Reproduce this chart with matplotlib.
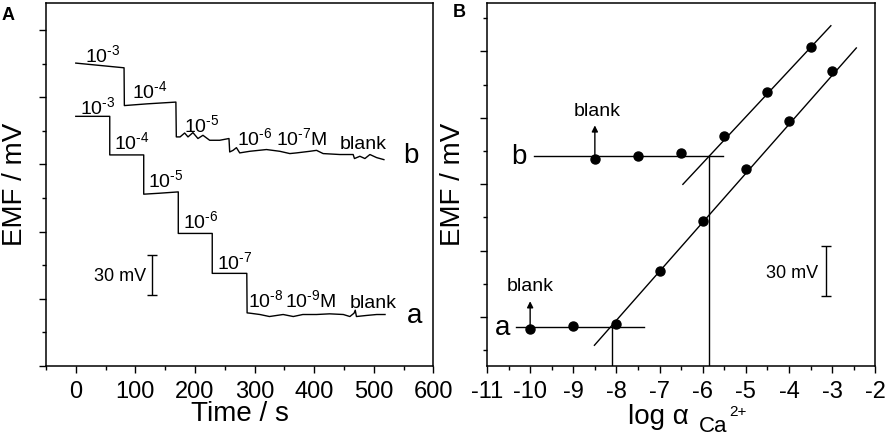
import matplotlib
matplotlib.use('Agg')
import matplotlib.pyplot as plt
from matplotlib.ticker import MultipleLocator, NullFormatter

plt.rcParams['font.family'] = ['Liberation Sans', 'DejaVu Sans']
plt.rcParams['mathtext.fontset'] = 'custom'
plt.rcParams['mathtext.rm'] = 'Liberation Sans'
plt.rcParams['mathtext.it'] = 'Liberation Sans:italic'
plt.rcParams['mathtext.default'] = 'regular'
plt.rcParams['axes.unicode_minus'] = False

# Panel A: potential-time traces (mV, relative)
time_a = [0, 57, 57, 114, 114, 140, 172, 172, 229, 229, 287, 287.5, 292, 309, 325, 348, 365,
          381, 404, 426, 449, 460, 467, 469, 471, 488, 505, 519]
emf_a = [185.7, 185.7, 157, 157, 127.8, 128.5, 129.5, 98.6, 98.6, 68.9, 68.9, 39.5, 39.3, 38.3,
         36.8, 38.3, 36.8, 38.3, 38.3, 38.8, 38.3, 36.8, 39.3, 41.5, 36.8, 37.6, 38.3, 38.3]

time_b = [0, 81, 81.5, 120, 168, 168.7, 175, 182.7, 188.3, 196.6, 205, 213.4, 224.7, 241.5,
          257.1, 258.3, 263.9, 269.6, 275.1, 291.9, 320, 342.4, 359.2, 370.4, 392.8, 404,
          415.1, 443.2, 465.5, 467.7, 476.8, 485.2, 493.6, 504.9, 517.1]
emf_b = [225.3, 221.8, 193.7, 195, 196.3, 170.4, 170.4, 173.3, 170.4, 173.6, 169.2, 171.6,
         167.9, 167.9, 169.2, 159.2, 160.4, 162.4, 158.5, 159.7, 161, 159.7, 158, 158.5, 159.7,
         160.4, 158, 157.3, 157.3, 154.3, 156, 154.3, 157.3, 155, 153.5]

# step labels (text, time, emf); U+2010 keeps the short hyphen of the original
labels_a = [('10$^{\u20103}$', 7, 187.7), ('10$^{\u20104}$', 64.6, 161.7),
            ('10$^{\u20105}$', 121.7, 132.8), ('10$^{\u20106}$', 179.4, 102.3),
            ('10$^{\u20107}$', 237.5, 71.8), ('10$^{\u20108}$', 289, 43.5),
            ('10$^{\u20109}$M', 351, 43.5), ('blank', 460, 43.5)]
labels_b = [('10$^{\u20103}$', 15.4, 226.4), ('10$^{\u20104}$', 93.8, 198.9),
            ('10$^{\u20105}$', 182.1, 174.1), ('10$^{\u20106}$', 270, 164.2),
            ('10$^{\u20107}$M', 336, 164.2), ('blank', 443.4, 161.7)]

# Panel B: calibration
log_a = [-10, -9, -8, -7, -6, -5, -4, -3]
emf_cal_a = [33.0, 34.4, 36.0, 67.6, 98.0, 129.0, 158.3, 188.4]
log_b = [-8.5, -7.5, -6.5, -5.5, -4.5, -3.5]
emf_cal_b = [135.0, 137.0, 138.7, 149.1, 175.3, 202.7]

fit_a_x = [-8.51, -2.44]
fit_a_y = [22.9, 202.1]
fit_b_x = [-6.46, -3.03]
fit_b_y = [119.9, 215.5]
flat_a_x = [-10.33, -7.36]
flat_a_y = 34.0
flat_b_x = [-9.92, -5.53]
flat_b_y = 137.2
lod_a = -8.11
lod_b = -5.86

W, H = 886, 438
fig = plt.figure(figsize=(W / 100, H / 100), dpi=100)
axA = fig.add_axes([46.0 / W, (H - 366) / H, 387.3 / W, 363 / H])
axB = fig.add_axes([487.0 / W, (H - 366) / H, 388.3 / W, 363 / H])

lw = 1.0
for ax in (axA, axB):
    for s in ax.spines.values():
        s.set_linewidth(1.1)
    ax.tick_params(which='major', direction='out', length=5, width=1.0, labelsize=17,
                   pad=5.5, top=False, right=False)
    ax.tick_params(which='minor', direction='out', length=3, width=1.0, top=False, right=False)
    ax.yaxis.set_major_formatter(NullFormatter())

# ---- A ----
axA.plot(time_a, emf_a, color='black', lw=lw)
axA.plot(time_b, emf_b, color='black', lw=lw)
axA.set_xlim(-50, 600)
axA.set_ylim(0, 270)
axA.xaxis.set_major_locator(MultipleLocator(100))
axA.xaxis.set_minor_locator(MultipleLocator(50))
axA.yaxis.set_major_locator(MultipleLocator(50))
axA.yaxis.set_minor_locator(MultipleLocator(25))
axA.set_xlabel('Time / s', fontsize=20, labelpad=-1)
axA.set_ylabel('EMF / mV', fontsize=20)
axA.yaxis.set_label_coords(-0.046, 0.5)

for txt, x, y in labels_a + labels_b:
    axA.text(x, y, txt, fontsize=14, ha='left', va='baseline')
axA.text(549.7, 151, 'b', fontsize=20, ha='left', va='baseline')
axA.text(556.4, 31.7, 'a', fontsize=20, ha='left', va='baseline')

axA.errorbar([127.4], [67.8], yerr=[15], color='black', capsize=3.5, lw=1.0, capthick=1.0)
axA.text(118.5, 66.3, '30 mV', fontsize=13, ha='right', va='center')

# ---- B ----
axB.plot(fit_a_x, fit_a_y, color='black', lw=lw)
axB.plot(fit_b_x, fit_b_y, color='black', lw=lw)
axB.plot(flat_a_x, [flat_a_y, flat_a_y], color='black', lw=lw)
axB.plot(flat_b_x, [flat_b_y, flat_b_y], color='black', lw=lw)
axB.plot([lod_a, lod_a], [0, flat_a_y], color='black', lw=lw)
axB.plot([lod_b, lod_b], [0, flat_b_y], color='black', lw=lw)
axB.plot(log_a, emf_cal_a, 'o', color='black', ms=6.5)
axB.plot(log_b, emf_cal_b, 'o', color='black', ms=6.5)

axB.annotate('', xy=(-10, 51.1), xytext=(-10, 33.0),
             arrowprops=dict(arrowstyle='-|>', color='black', lw=1.0, mutation_scale=9))
axB.annotate('', xy=(-8.5, 157.1), xytext=(-8.5, 135.0),
             arrowprops=dict(arrowstyle='-|>', color='black', lw=1.0, mutation_scale=9))
axB.text(-10.0, 58.1, 'blank', fontsize=14, ha='center', va='center')
axB.text(-8.45, 163.8, 'blank', fontsize=14, ha='center', va='center')
axB.text(-10.26, 136.6, 'b', fontsize=20, ha='center', va='center')
axB.text(-10.63, 33.2, 'a', fontsize=20, ha='center', va='center')

axB.errorbar([-3.15], [67.5], yerr=[15], color='black', capsize=3.5, lw=1.0, capthick=1.0)
axB.text(-3.33, 66.2, '30 mV', fontsize=13, ha='right', va='center')

axB.set_xlim(-11, -2)
axB.set_ylim(10.4, 229.2)
axB.xaxis.set_major_locator(MultipleLocator(1))
axB.xaxis.set_minor_locator(MultipleLocator(0.5))
axB.yaxis.set_major_locator(MultipleLocator(40))
axB.yaxis.set_minor_locator(MultipleLocator(20))
axB.set_ylabel('EMF / mV', fontsize=20)
axB.yaxis.set_label_coords(-0.054, 0.5)

# x label of B built from pieces: log α, subscript Ca, superscript 2+
fig.text(628 / W, (H - 424) / H, 'log α', fontsize=20, ha='left', va='baseline')
fig.text(699 / W, (H - 432) / H, 'Ca', fontsize=16, ha='left', va='baseline')
fig.text(729 / W, (H - 416) / H, '2+', fontsize=11, ha='left', va='baseline')

fig.text(2 / W, (H - 20) / H, 'A', fontsize=13, fontweight='bold', ha='left', va='baseline')
fig.text(453 / W, (H - 17) / H, 'B', fontsize=13, fontweight='bold', ha='left', va='baseline')

fig.savefig('out.png', dpi=100)
